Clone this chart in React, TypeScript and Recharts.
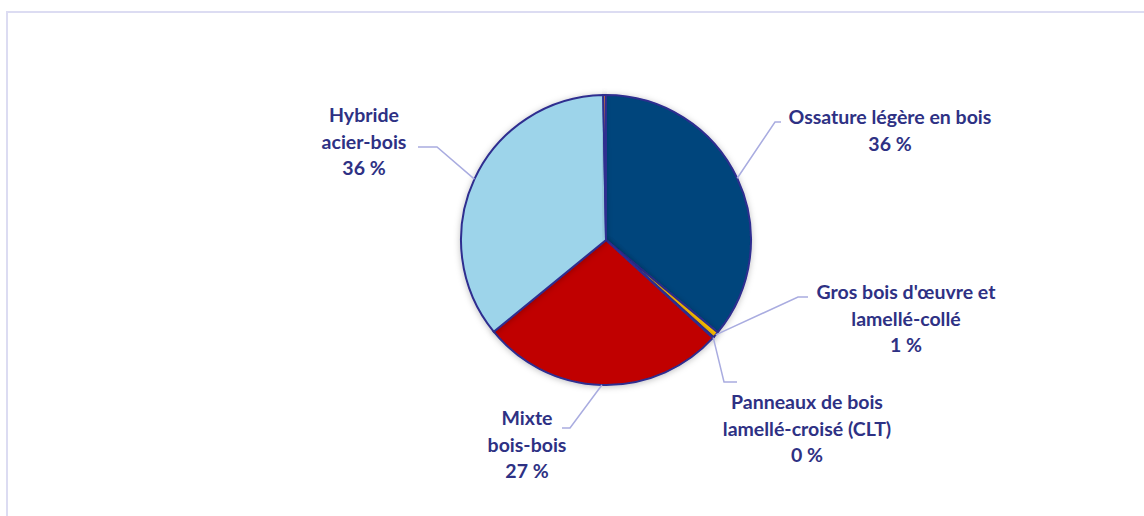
import { PieChart, Pie, Cell } from "recharts"

const categories = [
  "Ossature légère en bois",
  "Gros bois d'œuvre et lamellé-collé",
  "Panneaux de bois lamellé-croisé (CLT)",
  "Mixte bois-bois",
  "Hybride acier-bois",
  "Autre",
]
const shares = [36.0, 0.7, 0.1, 27.3, 35.6, 0.3]
const labelLines = [
  ["Ossature légère en bois"],
  ["Gros bois d'œuvre et", "lamellé-collé"],
  ["Panneaux de bois", "lamellé-croisé (CLT)"],
  ["Mixte", "bois-bois"],
  ["Hybride", "acier-bois"],
  [],
]

const COLORS = ["#00457C", "#FFC000", "#7030A0", "#C00000", "#9DD4EA", "#ED7D31"]
const TEXT = "#2E3184"
const LEADER = "#A9ACE0"

// elbow / end of horizontal / text centre, relative to the pie centre
const LAYOUT = [
  { elbow: [169, -118], end: [175, -118], text: [284, -124] },
  { elbow: [192, 57], end: [202, 57], text: [300, 51] },
  { elbow: [118, 142], end: [131, 142], text: [201, 161] },
  { elbow: [-36, 188], end: [-44, 188], text: [-79, 177] },
  { elbow: [-169, -93], end: [-188, -93], text: [-242, -126] },
  null,
]

const data = categories.map((name, i) => ({ name, value: shares[i] }))

const RAD = Math.PI / 180

function renderLabel(props: any) {
  const { cx, cy, midAngle, outerRadius, index, value } = props
  const lay = LAYOUT[index]
  if (!lay) return null
  const sx = cx + outerRadius * Math.cos(-midAngle * RAD)
  const sy = cy + outerRadius * Math.sin(-midAngle * RAD)
  const lines = [...labelLines[index], `${Math.round(value)} %`]
  const tx = cx + lay.text[0]
  const ty = cy + lay.text[1]
  return (
    <g key={`lbl-${index}`}>
      <polyline
        points={`${sx},${sy} ${cx + lay.elbow[0]},${cy + lay.elbow[1]} ${cx + lay.end[0]},${cy + lay.end[1]}`}
        fill="none"
        stroke={LEADER}
        strokeWidth={1.5}
      />
      <text
        x={tx}
        y={ty}
        textAnchor="middle"
        dominantBaseline="central"
        fill={TEXT}
        fontFamily="Lato, sans-serif"
        fontWeight={700}
        fontSize={19.5}
      >
        {lines.map((l, k) => (
          <tspan key={k} x={tx} y={ty + k * 26.5}>
            {l}
          </tspan>
        ))}
      </text>
    </g>
  )
}

export default function App() {
  return (
    <div style={{ position: "absolute", left: 0, top: 0, width: 1144, height: 516, overflow: "hidden", background: "#fff" }}>
      <div
        style={{
          position: "absolute",
          left: 6,
          top: 11,
          width: 1200,
          height: 600,
          border: "2px solid #DCDCF2",
        }}
      />
      <div style={{ position: "absolute", left: 0, top: 0 }}>
        <PieChart width={1144} height={516} margin={{ top: 0, right: 0, bottom: 0, left: 0 }}>
          <defs>
            <filter id="pieShadow" x="-20%" y="-20%" width="140%" height="140%">
              <feDropShadow dx="0" dy="1" stdDeviation="3" floodColor="#000" floodOpacity="0.25" />
            </filter>
          </defs>
          <Pie
            data={data}
            dataKey="value"
            nameKey="name"
            cx={606}
            cy={240}
            outerRadius={145}
            startAngle={90}
            endAngle={-270}
            stroke="#2E2D8F"
            strokeWidth={2}
            labelLine={false}
            label={renderLabel}
            isAnimationActive={false}
            style={{ filter: "url(#pieShadow)" }}
          >
            {data.map((d, i) => (
              <Cell key={d.name} fill={COLORS[i]} />
            ))}
          </Pie>
        </PieChart>
      </div>
    </div>
  )
}
